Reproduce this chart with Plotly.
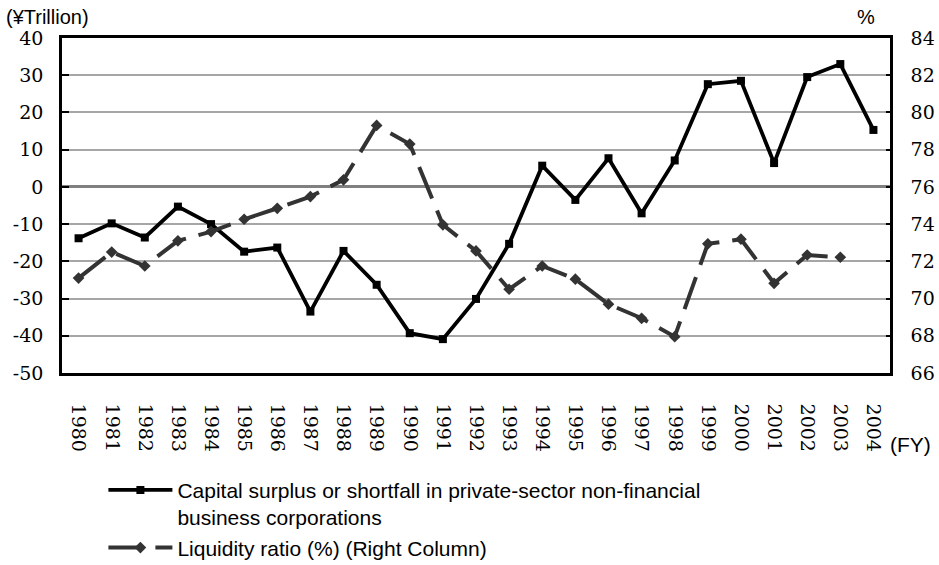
import plotly.graph_objects as go

years = list(range(1980, 2005))
year_labels = [str(y) for y in years]

capital_surplus = [-13.8, -9.8, -13.6, -5.3, -10.0, -17.4, -16.3, -33.5, -17.2, -26.3,
                   -39.3, -40.9, -30.1, -15.3, 5.7, -3.5, 7.7, -7.1, 7.1, 27.6,
                   28.5, 6.4, 29.5, 33.0, 15.3]

liquidity_years = list(range(1980, 2004))
liquidity_ratio = [71.1, 72.5, 71.75, 73.1, 73.6, 74.26, 74.85, 75.48, 76.38, 79.3,
                   78.3, 73.96, 72.56, 70.5, 71.75, 71.04, 69.7, 68.94, 67.95, 72.94,
                   73.19, 70.82, 72.34, 72.22]

left_ticks = [40, 30, 20, 10, 0, -10, -20, -30, -40, -50]
left_ticktext = ["40", "30", "20", "10", "0", "-10", "-20", "-30", "-40", "-50"]
right_ticks = [84, 82, 80, 78, 76, 74, 72, 70, 68, 66]
boundaries = [y + 0.5 for y in years[:-1]]

tickfam = "DejaVu Serif, Liberation Serif, serif"
sans = "Liberation Sans, Arial, sans-serif"

fig = go.Figure()
fig.add_trace(go.Scatter(
    x=years, y=capital_surplus, mode="lines+markers",
    name="Capital surplus or shortfall in private-sector non-financial<br>business corporations",
    line=dict(color="black", width=3.8),
    marker=dict(symbol="square", size=8, color="black"),
    xaxis="x", yaxis="y"))
fig.add_trace(go.Scatter(
    x=liquidity_years, y=liquidity_ratio, mode="lines+markers",
    name="Liquidity ratio (%) (Right Column)",
    line=dict(color="#333333", width=4, dash="34px,13px"),
    marker=dict(symbol="diamond", size=9, color="#333333"),
    xaxis="x", yaxis="y2"))

fig.update_layout(
    width=939, height=565,
    margin=dict(l=62, r=49, t=38, b=192, autoexpand=False),
    paper_bgcolor="white", plot_bgcolor="white",
    showlegend=True,
    legend=dict(x=0.05, y=-0.289, xanchor="left", yanchor="top", valign="top",
                font=dict(family=sans, size=21, color="black"),
                itemwidth=64, tracegroupgap=0, bgcolor="rgba(0,0,0,0)"),
    xaxis=dict(range=[1979.5, 2004.5], tickvals=years, ticktext=year_labels,
               tickangle=90, tickfont=dict(family=tickfam, size=19, color="black"),
               showline=True, linecolor="black", linewidth=2.5, mirror=True,
               showgrid=False, zeroline=False, ticks="", ticklabelstandoff=24),
    xaxis2=dict(range=[1979.5, 2004.5], overlaying="x", anchor="free", position=5/9,
                side="bottom", tickvals=boundaries, ticks="outside", ticklen=7,
                tickwidth=2, tickcolor="#808080", showticklabels=False,
                showline=False, showgrid=False, zeroline=False),
    xaxis3=dict(range=[1979.5, 2004.5], overlaying="x", anchor="free", position=5/9,
                side="top", tickvals=boundaries, ticks="outside", ticklen=7,
                tickwidth=2, tickcolor="#808080", showticklabels=False,
                showline=False, showgrid=False, zeroline=False),
    yaxis=dict(range=[-50, 40], tickvals=left_ticks, ticktext=left_ticktext,
               tickfont=dict(family=tickfam, size=19, color="black"),
               showgrid=True, gridcolor="#a6a6a6", gridwidth=1.5,
               zeroline=True, zerolinecolor="#808080", zerolinewidth=2.5,
               showline=True, linecolor="black", linewidth=2.5,
               ticks="inside", ticklen=7, tickwidth=2, tickcolor="black",
               ticklabelstandoff=12),
    yaxis2=dict(range=[66, 84], tickvals=right_ticks, overlaying="y", side="right",
                tickfont=dict(family=tickfam, size=19, color="black"),
                showgrid=False, zeroline=False,
                showline=True, linecolor="black", linewidth=2.5,
                ticks="inside", ticklen=4, tickwidth=2, tickcolor="black",
                ticklabelstandoff=14),
    annotations=[
        dict(text="(¥Trillion)", xref="paper", yref="paper", x=(4 - 62) / 828,
             y=(373 - 17) / 335, xanchor="left", yanchor="middle", showarrow=False,
             font=dict(family=sans, size=20, color="black")),
        dict(text="%", xref="paper", yref="paper", x=(866 - 62) / 828,
             y=(373 - 17) / 335, xanchor="center", yanchor="middle", showarrow=False,
             font=dict(family=sans, size=20, color="black")),
        dict(text="(FY)", xref="paper", yref="paper", x=(911 - 62) / 828,
             y=(373 - 444) / 335, xanchor="center", yanchor="middle", showarrow=False,
             font=dict(family=sans, size=21, color="black")),
    ],
)

fig.write_html("out.html")
